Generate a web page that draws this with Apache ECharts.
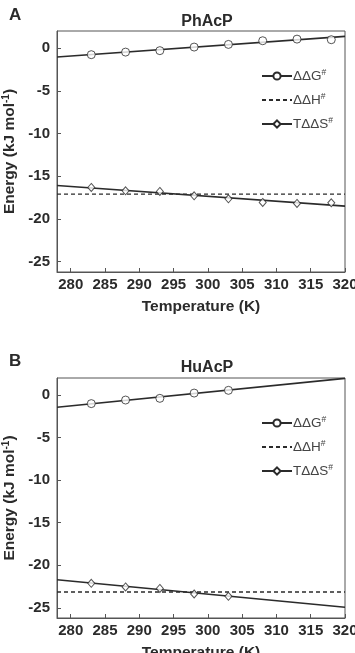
<!DOCTYPE html>
<html>
<head>
<meta charset="utf-8">
<script src="https://cdn.jsdelivr.net/npm/echarts@6/dist/echarts.min.js"></script>
<style>
html,body{margin:0;padding:0;background:#fff;}
#chart{width:355px;height:653px;}
</style>
</head>
<body>
<div id="chart"></div>
<script>
// temperatures (K)
var tempsA = [283, 288, 293, 298, 303, 308, 313, 318]
var tempsB = [283, 288, 293, 298, 303]
var fitX = [278, 320]
var xTicks = [280, 285, 290, 295, 300, 305, 310, 315, 320]
var yTicks = [-25, -20, -15, -10, -5, 0]

// PhAcP
var phDG = [-0.77, -0.47, -0.3, 0.12, 0.43, 0.86, 1.05, 0.98]
var phTS = [-16.31, -16.7, -16.78, -17.29, -17.64, -18.06, -18.18, -18.1]
var phDGfit = [-1.05, 1.37]
var phTSfit = [-16.08, -18.49]
var phDH = [-17.09, -17.09]

// HuAcP
var huDG = [-1.01, -0.59, -0.39, 0.23, 0.55]
var huTS = [-22.13, -22.55, -22.72, -23.38, -23.65]
var huDGfit = [-1.44, 1.96]
var huTSfit = [-21.7, -24.94]
var huDH = [-23.14, -23.14]

var FONT = "'Liberation Sans', Arial, sans-serif"
var INK = '#2b2b2b'

function pairs(xs, ys) {
    return xs.map(function (x, i) { return [x, ys[i]] })
}

function xAxis(idx) {
    return {
        type: 'value', gridIndex: idx, min: 278, max: 320,
        name: 'Temperature (K)', nameLocation: 'middle', nameGap: 27,
        nameTextStyle: { fontFamily: FONT, fontWeight: 'bold', fontSize: 15.5, color: INK },
        axisLine: { onZero: false, lineStyle: { color: '#555', width: 1 } },
        axisTick: { inside: true, length: 4, customValues: xTicks, lineStyle: { color: '#555' } },
        axisLabel: { customValues: xTicks, margin: 5, fontFamily: FONT, fontWeight: 'bold', fontSize: 15, color: INK },
        splitLine: { show: false }
    }
}

function yAxis(idx) {
    return {
        type: 'value', gridIndex: idx, min: -26.2, max: 2,
        name: 'Energy (kJ mol{sup|-1})', nameLocation: 'middle', nameGap: 35,
        nameTextStyle: {
            fontFamily: FONT, fontWeight: 'bold', fontSize: 15.5, color: INK,
            rich: { sup: { fontFamily: FONT, fontWeight: 'bold', fontSize: 10, color: INK, verticalAlign: 'top', lineHeight: 15 } }
        },
        axisLine: { onZero: false, lineStyle: { color: '#555', width: 1 } },
        axisTick: { inside: true, length: 4, customValues: yTicks, lineStyle: { color: '#555' } },
        axisLabel: { customValues: yTicks, margin: 7, fontFamily: FONT, fontWeight: 'bold', fontSize: 15, color: INK },
        splitLine: { show: false }
    }
}

function legend(top) {
    var labels = { 'ΔΔG': '{m|ΔΔG}{s|#}', 'ΔΔH': '{m|ΔΔH}{s|#}', 'TΔΔS': '{m|TΔΔS}{s|#}' }
    return {
        orient: 'vertical', left: 256, top: top, itemWidth: 30, itemHeight: 9, itemGap: 9,
        selectedMode: false,
        data: [{ name: 'ΔΔG' }, { name: 'ΔΔH', itemStyle: { opacity: 0 } }, { name: 'TΔΔS' }],
        formatter: function (n) { return labels[n] },
        textStyle: {
            padding: [0, 0, 0, -4],
            rich: {
                m: { fontFamily: FONT, fontSize: 13.5, color: '#444', lineHeight: 16 },
                s: { fontFamily: FONT, fontSize: 8.5, color: '#444', verticalAlign: 'top', lineHeight: 16 }
            }
        }
    }
}

function panelSeries(idx, temps, dg, ts, dgFit, tsFit, dh) {
    var pt = { color: '#fff', borderColor: INK, borderWidth: 1 }
    return [
        { name: 'ΔΔG', type: 'line', xAxisIndex: idx, yAxisIndex: idx, data: pairs(fitX, dgFit),
          symbol: 'circle', showSymbol: false, itemStyle: pt, lineStyle: { color: INK, width: 1.6 }, silent: true },
        { name: 'ΔΔH', type: 'line', xAxisIndex: idx, yAxisIndex: idx, data: pairs(fitX, dh),
          symbol: 'circle', showSymbol: false, itemStyle: pt, lineStyle: { color: INK, width: 1.4, type: [4, 3] }, silent: true },
        { name: 'TΔΔS', type: 'line', xAxisIndex: idx, yAxisIndex: idx, data: pairs(fitX, tsFit),
          symbol: 'diamond', showSymbol: false, itemStyle: pt, lineStyle: { color: INK, width: 1.6 }, silent: true },
        { name: 'dg points', type: 'scatter', xAxisIndex: idx, yAxisIndex: idx, data: pairs(temps, dg),
          symbol: 'circle', symbolSize: 8, itemStyle: pt, z: 5 },
        { name: 'ts points', type: 'scatter', xAxisIndex: idx, yAxisIndex: idx, data: pairs(temps, ts),
          symbol: 'diamond', symbolSize: [7, 8], itemStyle: pt, z: 5 }
    ]
}

var chart = echarts.init(document.getElementById('chart'))
chart.setOption({
    animation: false,
    backgroundColor: '#fff',
    title: [
        { text: 'A', left: 4, top: 2, textStyle: { fontFamily: FONT, fontWeight: 'bold', fontSize: 17, color: INK } },
        { text: 'PhAcP', left: 202, top: 9, textAlign: 'center', textStyle: { fontFamily: FONT, fontWeight: 'bold', fontSize: 16, color: INK } },
        { text: 'B', left: 4, top: 348, textStyle: { fontFamily: FONT, fontWeight: 'bold', fontSize: 17, color: INK } },
        { text: 'HuAcP', left: 202, top: 355, textAlign: 'center', textStyle: { fontFamily: FONT, fontWeight: 'bold', fontSize: 16, color: INK } }
    ],
    grid: [
        { left: 57, top: 31, width: 288, height: 241, show: true, borderColor: '#555', borderWidth: 1, outerBoundsMode: 'none' },
        { left: 57, top: 378, width: 288, height: 240, show: true, borderColor: '#555', borderWidth: 1, outerBoundsMode: 'none' }
    ],
    legend: [legend(63), legend(410)],
    xAxis: [xAxis(0), xAxis(1)],
    yAxis: [yAxis(0), yAxis(1)],
    series: panelSeries(0, tempsA, phDG, phTS, phDGfit, phTSfit, phDH)
        .concat(panelSeries(1, tempsB, huDG, huTS, huDGfit, huTSfit, huDH))
})
</script>
</body>
</html>
